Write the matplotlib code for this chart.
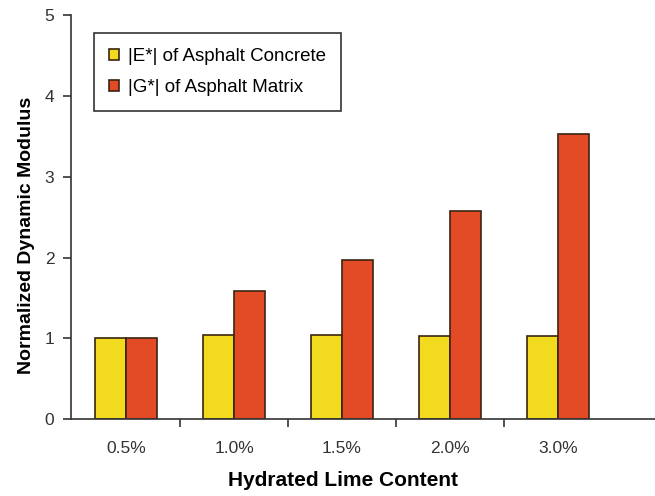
import matplotlib.pyplot as plt
import numpy as np

plt.rcParams['font.family'] = ['Liberation Sans', 'DejaVu Sans']

# Data
lime = ['0.5%', '1.0%', '1.5%', '2.0%', '3.0%']
e_concrete = [1.00, 1.04, 1.04, 1.03, 1.03]
g_matrix = [1.00, 1.58, 1.97, 2.57, 3.53]

x = np.arange(len(lime))
w = 0.29

fig = plt.figure(figsize=(6.55, 4.96), dpi=100)
ax = fig.add_axes([0.1084, 0.155, 0.8916, 0.8145])

ax.bar(x - w / 2, e_concrete, w, color='#F2DA1E', edgecolor='#3a2412',
       linewidth=1.2, label='|E*| of Asphalt Concrete')
ax.bar(x + w / 2, g_matrix, w, color='#E34A26', edgecolor='#3a2412',
       linewidth=1.2, label='|G*| of Asphalt Matrix')

# Axes
ax.set_xlim(-0.51, 4.9)
ax.set_ylim(0, 5)
ax.set_yticks([0, 1, 2, 3, 4, 5])
ax.set_xticks(x)
ax.set_xticklabels(lime)
ax.set_xticks(x[:-1] + 0.5, minor=True)
ax.tick_params(axis='x', which='major', length=0, pad=16, labelsize=12.5, colors='#333333')
ax.tick_params(axis='x', which='minor', length=6, width=1.2, direction='out', color='#333333')
ax.tick_params(axis='y', length=6, width=1.2, direction='out', labelsize=12.5,
               colors='#333333', pad=6)
for s in ['top', 'right']:
    ax.spines[s].set_visible(False)
for s in ['left', 'bottom']:
    ax.spines[s].set_linewidth(1.2)
    ax.spines[s].set_color('#333333')

# Labels
ax.set_xlabel('Hydrated Lime Content', fontsize=15, fontweight='bold', va='center')
ax.xaxis.set_label_coords(0.466, -0.151)
ax.set_ylabel('Normalized Dynamic Modulus', fontsize=14, fontweight='bold')
ax.yaxis.set_label_coords(-0.062, 0.455)

leg = ax.legend(loc='upper left', bbox_to_anchor=(0.04, 0.955), fontsize=13.5,
                frameon=True, fancybox=False, edgecolor='black',
                handlelength=0.5, handleheight=0.5, handletextpad=0.5,
                borderpad=0.8, labelspacing=0.75, borderaxespad=0)
leg.get_frame().set_linewidth(1.2)

plt.savefig('out.png', dpi=100)
